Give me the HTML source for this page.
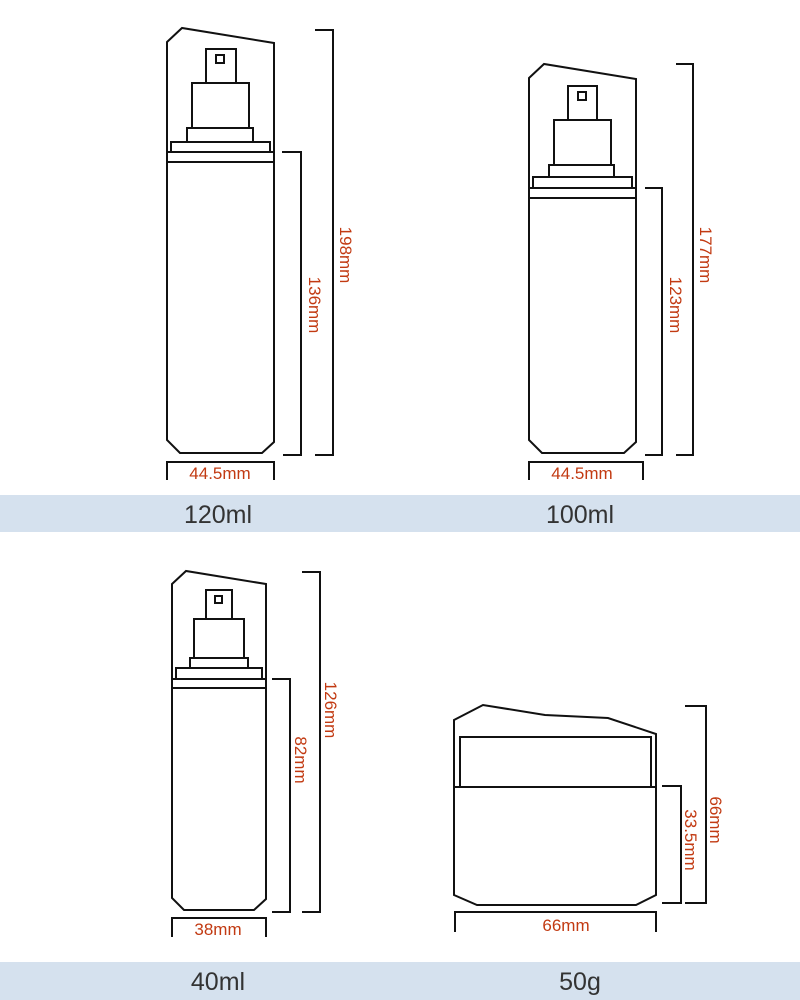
<!DOCTYPE html>
<html><head><meta charset="utf-8"><style>
html,body{margin:0;padding:0;background:#fff}
svg{display:block}
.s{fill:none;stroke:#111;stroke-width:2}
.r{fill:#c23a12;font-family:"Liberation Sans",sans-serif;font-size:17px}
.b{fill:#333;font-family:"Liberation Sans",sans-serif;font-size:25px}
</style></head><body>
<svg width="800" height="1000" viewBox="0 0 800 1000">
<rect x="0" y="495" width="800" height="37" fill="#d5e1ee"/>
<rect x="0" y="962" width="800" height="38" fill="#d5e1ee"/>
<text class="b" x="218" y="523" text-anchor="middle">120ml</text>
<text class="b" x="580" y="523" text-anchor="middle">100ml</text>
<text class="b" x="218" y="990" text-anchor="middle">40ml</text>
<text class="b" x="580" y="990" text-anchor="middle">50g</text>

<g class="s">
<path d="M167,42 L182,28 L274,43 L274,442 L262,453 L180,453 L167,440 Z"/>
<line x1="167" y1="152" x2="274" y2="152"/><line x1="167" y1="162" x2="274" y2="162"/>
<rect x="171" y="142" width="99" height="10"/><rect x="187" y="128" width="66" height="14"/>
<rect x="192" y="83" width="57" height="45"/><rect x="206" y="49" width="30" height="34"/>
<rect x="216" y="55" width="8" height="8"/>
<path d="M282,152 H301 V455 H283"/><path d="M315,30 H333 V455 H315"/>
<path d="M167,480 V462 H274 V480"/>
</g>
<text class="r" transform="translate(309,305) rotate(90)" text-anchor="middle">136mm</text>
<text class="r" transform="translate(340,255) rotate(90)" text-anchor="middle">198mm</text>
<text class="r" x="220" y="479" text-anchor="middle">44.5mm</text>

<g class="s">
<path d="M529,78 L544,64 L636,79 L636,442 L624,453 L542,453 L529,440 Z"/>
<line x1="529" y1="188" x2="636" y2="188"/><line x1="529" y1="198" x2="636" y2="198"/>
<rect x="533" y="177" width="99" height="11"/><rect x="549" y="165" width="65" height="12"/>
<rect x="554" y="120" width="57" height="45"/><rect x="568" y="86" width="29" height="34"/>
<rect x="578" y="92" width="8" height="8"/>
<path d="M645,188 H662 V455 H645"/><path d="M676,64 H693 V455 H676"/>
<path d="M529,480 V462 H643 V480"/>
</g>
<text class="r" transform="translate(670,305) rotate(90)" text-anchor="middle">123mm</text>
<text class="r" transform="translate(700,255) rotate(90)" text-anchor="middle">177mm</text>
<text class="r" x="582" y="479" text-anchor="middle">44.5mm</text>

<g class="s">
<path d="M172,584 L186,571 L266,584 L266,899 L254,910 L184,910 L172,898 Z"/>
<line x1="172" y1="679" x2="266" y2="679"/><line x1="172" y1="688" x2="266" y2="688"/>
<rect x="176" y="668" width="86" height="11"/><rect x="190" y="658" width="58" height="10"/>
<rect x="194" y="619" width="50" height="39"/><rect x="206" y="590" width="26" height="29"/>
<rect x="215" y="596" width="7" height="7"/>
<path d="M272,679 H290 V912 H272"/><path d="M302,572 H320 V912 H302"/>
<path d="M172,937 V918 H266 V937"/>
</g>
<text class="r" transform="translate(295,760) rotate(90)" text-anchor="middle">82mm</text>
<text class="r" transform="translate(325,710) rotate(90)" text-anchor="middle">126mm</text>
<text class="r" x="218" y="935" text-anchor="middle">38mm</text>

<g class="s">
<path d="M454,720 L483,705 L545,715 L608,718 L656,734 L656,895 L636,905 L477,905 L454,895 Z"/>
<rect x="460" y="737" width="191" height="50"/>
<line x1="454" y1="787" x2="656" y2="787"/>
<path d="M662,786 H681 V903 H662"/><path d="M685,706 H706 V903 H685"/>
<path d="M455,932 V912 H656 V932"/>
</g>
<text class="r" transform="translate(685,840) rotate(90)" text-anchor="middle">33.5mm</text>
<text class="r" transform="translate(710,820) rotate(90)" text-anchor="middle">66mm</text>
<text class="r" x="566" y="931" text-anchor="middle">66mm</text>
</svg>
</body></html>
